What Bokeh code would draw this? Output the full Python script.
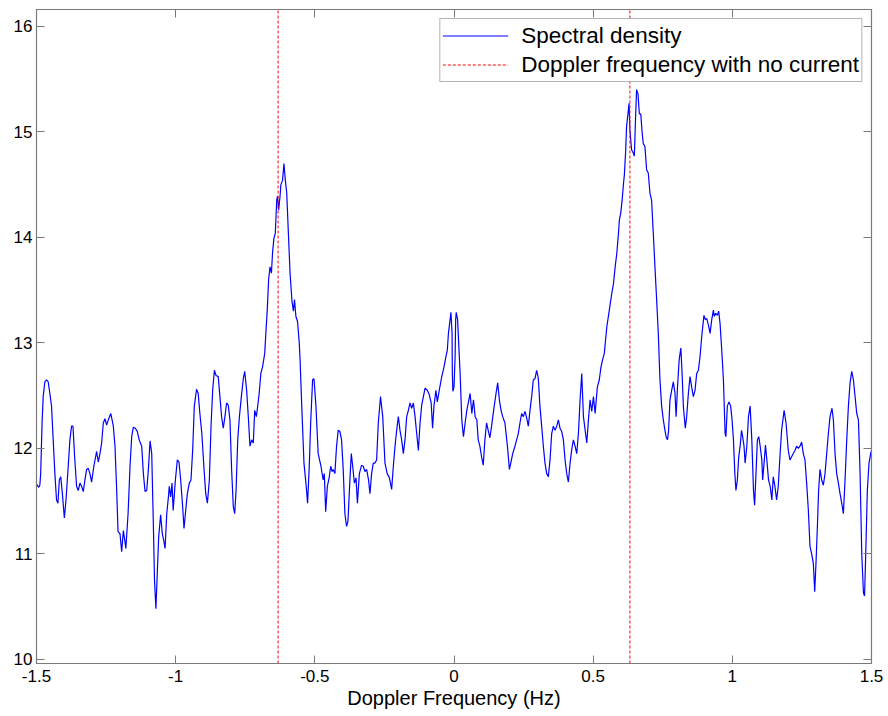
from bokeh.plotting import figure
from bokeh.models import Range1d, LinearAxis, FixedTicker, ColumnDataSource, Legend, LegendItem
from bokeh.embed import file_html
from bokeh.resources import INLINE

# ---------------- data ----------------
freq_left = [-1.500, -1.492, -1.488, -1.485, -1.480, -1.476, -1.470, -1.464, -1.458, -1.452, -1.446, -1.440,
             -1.434, -1.428, -1.423, -1.418, -1.413, -1.407, -1.400, -1.394, -1.386, -1.380, -1.374, -1.369,
             -1.363, -1.356, -1.350, -1.344, -1.338, -1.332, -1.326, -1.320, -1.314, -1.308, -1.302, -1.294,
             -1.284, -1.278, -1.272, -1.266, -1.260, -1.254, -1.248, -1.242, -1.233, -1.224, -1.218, -1.212,
             -1.207, -1.200, -1.194, -1.188, -1.183, -1.179, -1.171, -1.164, -1.158, -1.152, -1.145, -1.138,
             -1.131, -1.122, -1.116, -1.110, -1.104, -1.098, -1.092, -1.086, -1.080, -1.076, -1.071, -1.066,
             -1.061, -1.054, -1.048, -1.043, -1.038, -1.032, -1.026, -1.023, -1.018, -1.013, -1.009, -1.001,
             -0.994, -0.988, -0.982, -0.975, -0.970, -0.964, -0.958, -0.951, -0.945, -0.939, -0.933, -0.925,
             -0.919, -0.913, -0.906, -0.898, -0.892, -0.886, -0.879, -0.873, -0.867, -0.861, -0.855, -0.847,
             -0.841, -0.835, -0.829, -0.823, -0.817, -0.811, -0.805, -0.799, -0.793, -0.788, -0.783, -0.777,
             -0.771, -0.764, -0.757, -0.752, -0.745, -0.739, -0.733, -0.727, -0.721, -0.716, -0.710, -0.704,
             -0.700, -0.694, -0.688, -0.680]
dens_left = [11.66, 11.63, 11.65, 11.76, 12.24, 12.49, 12.63, 12.65, 12.63, 12.52, 12.40, 12.08,
             11.76, 11.51, 11.48, 11.70, 11.73, 11.57, 11.34, 11.51, 11.83, 12.08, 12.21, 12.21,
             11.92, 11.64, 11.60, 11.67, 11.64, 11.59, 11.70, 11.80, 11.81, 11.76, 11.68, 11.83,
             11.97, 11.87, 11.95, 12.05, 12.24, 12.28, 12.22, 12.27, 12.33, 12.21, 12.02, 11.61,
             11.21, 11.19, 11.02, 11.22, 11.13, 11.05, 11.38, 11.83, 12.11, 12.20, 12.19, 12.16,
             12.08, 12.02, 11.76, 11.59, 11.60, 11.80, 12.07, 11.95, 11.26, 10.75, 10.48, 10.82,
             11.16, 11.37, 11.19, 11.13, 11.05, 11.38, 11.54, 11.64, 11.54, 11.67, 11.41, 11.70,
             11.89, 11.87, 11.70, 11.45, 11.24, 11.41, 11.57, 11.67, 11.70, 11.98, 12.40, 12.56,
             12.52, 12.33, 12.14, 11.80, 11.57, 11.48, 11.70, 12.21, 12.55, 12.74, 12.69, 12.68,
             12.49, 12.30, 12.19, 12.30, 12.43, 12.41, 12.27, 11.80, 11.45, 11.38, 11.60, 12.08,
             12.30, 12.49, 12.66, 12.73, 12.55, 12.30, 12.02, 12.08, 12.05, 12.36, 12.30, 12.43,
             12.52, 12.71, 12.77, 12.90]

freq_neg_peak = [-0.676, -0.671, -0.666, -0.661, -0.656, -0.652, -0.647, -0.642, -0.637, -0.634, -0.630,
                 -0.625, -0.622, -0.616, -0.611, -0.606, -0.601, -0.595, -0.589, -0.582, -0.577, -0.573,
                 -0.568, -0.562, -0.556]
dens_neg_peak = [13.09, 13.31, 13.60, 13.72, 13.66, 13.85, 13.99, 14.04, 14.35, 14.39, 14.26,
                 14.39, 14.50, 14.54, 14.70, 14.54, 14.42, 14.04, 13.66, 13.39, 13.30, 13.41,
                 13.25, 13.20, 13.00]

freq_mid = [-0.553, -0.547, -0.539, -0.532, -0.526, -0.520, -0.515, -0.508, -0.503, -0.496, -0.488, -0.478,
            -0.470, -0.466, -0.461, -0.455, -0.448, -0.443, -0.438, -0.434, -0.428, -0.422, -0.416, -0.410,
            -0.404, -0.398, -0.392, -0.386, -0.381, -0.374, -0.369, -0.364, -0.358, -0.352, -0.347, -0.340,
            -0.332, -0.326, -0.320, -0.314, -0.307, -0.302, -0.296, -0.290, -0.284, -0.278, -0.272, -0.264,
            -0.256, -0.248, -0.240, -0.232, -0.224, -0.218, -0.212, -0.206, -0.200, -0.194, -0.188, -0.182,
            -0.176, -0.170, -0.164, -0.158, -0.152, -0.146, -0.140, -0.134, -0.128, -0.122, -0.116, -0.110,
            -0.104, -0.096, -0.089, -0.082, -0.077, -0.072, -0.065, -0.060, -0.053, -0.044, -0.036, -0.029,
            -0.024, -0.020, -0.014, -0.011, -0.007, -0.006, -0.004, 0.000, 0.004, 0.006, 0.008, 0.013,
            0.018, 0.022, 0.028, 0.034, 0.040, 0.046, 0.052, 0.058, 0.064, 0.070, 0.076, 0.082,
            0.087, 0.093, 0.099, 0.105, 0.111, 0.117, 0.123, 0.129, 0.135, 0.144, 0.151, 0.157,
            0.163, 0.169, 0.175, 0.183, 0.192, 0.199, 0.204, 0.211, 0.219, 0.225, 0.231, 0.237,
            0.243, 0.249, 0.255, 0.261, 0.267, 0.273, 0.279, 0.285, 0.291, 0.297, 0.303, 0.309,
            0.315, 0.321, 0.327, 0.333, 0.339, 0.345, 0.351, 0.357, 0.363, 0.369, 0.375, 0.381,
            0.387, 0.393, 0.399, 0.405, 0.411, 0.417, 0.423, 0.429, 0.435, 0.441, 0.447, 0.453,
            0.459, 0.465, 0.477, 0.483, 0.489, 0.495, 0.501, 0.507, 0.515, 0.522, 0.528, 0.534,
            0.540]
dens_mid = [12.84, 12.40, 11.86, 11.67, 11.48, 11.83, 12.24, 12.65, 12.66, 12.40, 11.95, 11.83,
            11.70, 11.76, 11.40, 11.64, 11.73, 11.83, 11.78, 11.80, 11.76, 12.02, 12.17, 12.16,
            12.08, 11.80, 11.38, 11.26, 11.31, 11.70, 11.95, 11.83, 11.67, 11.72, 11.48, 11.76,
            11.84, 11.83, 11.78, 11.80, 11.70, 11.57, 11.76, 11.86, 11.86, 11.89, 12.24, 12.49,
            12.30, 11.86, 11.76, 11.72, 11.61, 11.83, 12.02, 12.17, 12.30, 12.17, 12.08, 11.95,
            12.08, 12.30, 12.36, 12.43, 12.38, 12.43, 12.30, 12.14, 11.98, 12.24, 12.41, 12.49,
            12.57, 12.55, 12.51, 12.43, 12.19, 12.40, 12.55, 12.44, 12.55, 12.68, 12.77, 12.87,
            12.93, 13.09, 13.22, 13.29, 13.09, 12.71, 12.54, 12.58, 12.87, 13.22, 13.29, 13.22,
            12.93, 12.71, 12.27, 12.11, 12.24, 12.36, 12.44, 12.52, 12.33, 12.46, 12.30, 12.27,
            12.08, 12.02, 11.92, 11.84, 12.08, 12.24, 12.17, 12.10, 12.21, 12.39, 12.52, 12.62,
            12.46, 12.36, 12.30, 12.24, 12.02, 11.80, 11.86, 11.95, 12.02, 12.08, 12.14, 12.24,
            12.33, 12.30, 12.35, 12.29, 12.21, 12.36, 12.49, 12.65, 12.66, 12.74, 12.66, 12.39,
            12.21, 12.02, 11.86, 11.76, 11.73, 11.89, 12.14, 12.21, 12.17, 12.21, 12.27, 12.19,
            12.16, 12.08, 11.89, 11.76, 11.68, 11.86, 11.99, 12.08, 12.02, 11.95, 12.14, 12.46,
            12.71, 12.30, 12.05, 12.27, 12.46, 12.35, 12.49, 12.33, 12.58, 12.65, 12.77, 12.84,
            12.90]

freq_pos_peak = [0.549, 0.558, 0.567, 0.573, 0.579, 0.585, 0.591, 0.594, 0.599, 0.604, 0.609, 0.612,
                 0.617, 0.620, 0.625, 0.629, 0.632, 0.638, 0.644, 0.648, 0.652, 0.656, 0.661, 0.666,
                 0.671, 0.676, 0.680, 0.686, 0.692, 0.698, 0.704, 0.710, 0.716, 0.722, 0.728, 0.734]
dens_pos_peak = [13.15, 13.31, 13.47, 13.56, 13.72, 13.85, 14.04, 14.16, 14.23, 14.35, 14.51, 14.59,
                 14.83, 15.05, 15.17, 15.27, 15.02, 14.83, 14.80, 14.77, 15.11, 15.40, 15.36, 15.17,
                 15.17, 14.99, 14.89, 14.86, 14.64, 14.61, 14.42, 14.35, 14.04, 13.72, 13.41, 13.09]

freq_right = [0.740, 0.746, 0.752, 0.758, 0.762, 0.767, 0.771, 0.776, 0.782, 0.788, 0.794, 0.798,
              0.803, 0.809, 0.815, 0.819, 0.824, 0.831, 0.836, 0.842, 0.848, 0.854, 0.860, 0.866,
              0.872, 0.878, 0.884, 0.890, 0.898, 0.903, 0.908, 0.914, 0.920, 0.926, 0.932, 0.935,
              0.940, 0.946, 0.951, 0.956, 0.962, 0.968, 0.974, 0.977, 0.982, 0.988, 0.994, 0.999,
              1.004, 1.009, 1.013, 1.018, 1.023, 1.028, 1.033, 1.037, 1.042, 1.046, 1.052, 1.058,
              1.064, 1.070, 1.076, 1.080, 1.085, 1.090, 1.095, 1.100, 1.106, 1.109, 1.114, 1.119,
              1.124, 1.130, 1.136, 1.142, 1.147, 1.153, 1.159, 1.165, 1.171, 1.177, 1.186, 1.193,
              1.201, 1.207, 1.213, 1.219, 1.225, 1.231, 1.237, 1.243, 1.249, 1.255, 1.261, 1.267,
              1.273, 1.279, 1.285, 1.291, 1.296, 1.301, 1.306, 1.310, 1.315, 1.321, 1.327, 1.333,
              1.339, 1.345, 1.351, 1.358, 1.363, 1.369, 1.375, 1.381, 1.387, 1.393, 1.399, 1.405,
              1.411, 1.417, 1.423, 1.429, 1.435, 1.441, 1.447, 1.453, 1.459, 1.465, 1.471, 1.475,
              1.479, 1.485, 1.491, 1.497, 1.500]
dens_right = [12.65, 12.40, 12.27, 12.17, 12.11, 12.08, 12.17, 12.46, 12.55, 12.63, 12.52, 12.30,
              12.58, 12.84, 12.95, 12.74, 12.40, 12.19, 12.30, 12.52, 12.68, 12.58, 12.49, 12.55,
              12.71, 12.74, 12.87, 13.06, 13.26, 13.22, 13.23, 13.17, 13.09, 13.22, 13.31, 13.25,
              13.28, 13.26, 13.30, 13.18, 12.93, 12.65, 12.14, 12.11, 12.40, 12.44, 12.40, 12.27,
              12.08, 11.76, 11.60, 11.70, 11.92, 12.02, 12.17, 12.11, 12.02, 11.86, 12.02, 12.30,
              12.40, 12.08, 11.60, 11.46, 11.76, 12.08, 12.11, 12.02, 11.89, 11.70, 11.86, 12.03,
              11.89, 11.70, 11.64, 11.51, 11.73, 11.64, 11.51, 11.64, 11.92, 12.17, 12.36, 12.24,
              11.98, 11.89, 11.92, 11.95, 11.98, 12.02, 12.00, 12.02, 12.06, 11.95, 11.89, 11.67,
              11.42, 11.07, 11.00, 10.91, 10.64, 10.94, 11.29, 11.60, 11.80, 11.70, 11.65, 11.76,
              11.95, 12.14, 12.30, 12.38, 12.27, 11.95, 11.76, 11.67, 11.57, 11.48, 11.38, 11.70,
              12.08, 12.40, 12.62, 12.73, 12.65, 12.49, 12.33, 12.27, 11.76, 11.00, 10.63, 10.60,
              10.97, 11.60, 11.86, 11.95, 11.98]

doppler_no_current = [-0.632, 0.632]

x_ticks = [-1.5, -1, -0.5, 0, 0.5, 1, 1.5]
x_tick_labels = ["-1.5", "-1", "-0.5", "0", "0.5", "1", "1.5"]
y_ticks = [10, 11, 12, 13, 14, 15, 16]
y_tick_labels = ["10", "11", "12", "13", "14", "15", "16"]
x_axis_label = "Doppler Frequency (Hz)"
series_labels = ["Spectral density", "Doppler frequency with no current"]
x_limits = (-1.5, 1.5)
y_limits = (9.96, 16.16)

# ---------------- build ----------------
freq = freq_left + freq_neg_peak + freq_mid + freq_pos_peak + freq_right
density = dens_left + dens_neg_peak + dens_mid + dens_pos_peak + dens_right

FONT = "Liberation Sans"
AXIS_GRAY = "#7a7a7a"
BLUE = "#0000ff"

p = figure(width=888, height=716, output_backend="svg", toolbar_location=None,
           x_range=Range1d(*x_limits), y_range=Range1d(*y_limits),
           min_border_left=36, min_border_right=17, min_border_top=9, min_border_bottom=53)
p.background_fill_color = "white"
p.border_fill_color = "white"
p.outline_line_color = AXIS_GRAY
p.outline_line_width = 1.2
p.xgrid.visible = False
p.ygrid.visible = False

spec_src = ColumnDataSource(dict(x=freq, y=density))
r_spec = p.line("x", "y", source=spec_src, line_color=BLUE, line_width=1.2)

dop_src = ColumnDataSource(dict(x0=doppler_no_current, x1=doppler_no_current,
                                y0=[y_limits[0]] * len(doppler_no_current),
                                y1=[y_limits[1]] * len(doppler_no_current)))
r_dop = p.segment("x0", "y0", "x1", "y1", source=dop_src, line_color="#ff0000",
                  line_width=1, line_dash="3 2")

x_over = {t: s for t, s in zip(x_ticks, x_tick_labels)}
y_over = {t: s for t, s in zip(y_ticks, y_tick_labels)}


def style_axis(ax, labels=True):
    ax.axis_line_color = AXIS_GRAY
    ax.major_tick_line_color = AXIS_GRAY
    ax.major_tick_in = 8
    ax.major_tick_out = 0
    ax.minor_tick_line_color = None
    ax.major_label_text_font = FONT
    if labels:
        ax.major_label_text_font_size = "17px"
        ax.major_label_text_color = "black"
    else:
        ax.major_label_text_color = None
        ax.major_label_standoff = 0


xa = p.xaxis[0]
xa.ticker = FixedTicker(ticks=x_ticks)
xa.major_label_overrides = x_over
style_axis(xa)
xa.major_label_standoff = 6
xa.axis_label = x_axis_label
xa.axis_label_text_font = FONT
xa.axis_label_text_font_style = "normal"
xa.axis_label_text_font_size = "20px"
xa.axis_label_text_color = "black"
xa.axis_label_standoff = 2

ya = p.yaxis[0]
ya.ticker = FixedTicker(ticks=y_ticks)
ya.major_label_overrides = y_over
style_axis(ya)
ya.major_label_standoff = 4

top_ax = LinearAxis(ticker=FixedTicker(ticks=x_ticks))
style_axis(top_ax, labels=False)
p.add_layout(top_ax, "above")
right_ax = LinearAxis(ticker=FixedTicker(ticks=y_ticks))
style_axis(right_ax, labels=False)
p.add_layout(right_ax, "right")

legend = Legend(items=[LegendItem(label=series_labels[0], renderers=[r_spec]),
                       LegendItem(label=series_labels[1], renderers=[r_dop])],
                location="top_right")
legend.margin = 9
legend.padding = 2
legend.spacing = 0
legend.glyph_width = 66
legend.glyph_height = 29
legend.label_height = 29
legend.label_standoff = 13
legend.label_text_font = FONT
legend.label_text_font_size = "22.5px"
legend.label_text_color = "black"
legend.border_line_color = "#6a6a6a"
legend.border_line_width = 1.2
legend.background_fill_color = "white"
legend.background_fill_alpha = 1.0
p.add_layout(legend, "center")

open("out.html", "w").write(file_html(p, INLINE))
